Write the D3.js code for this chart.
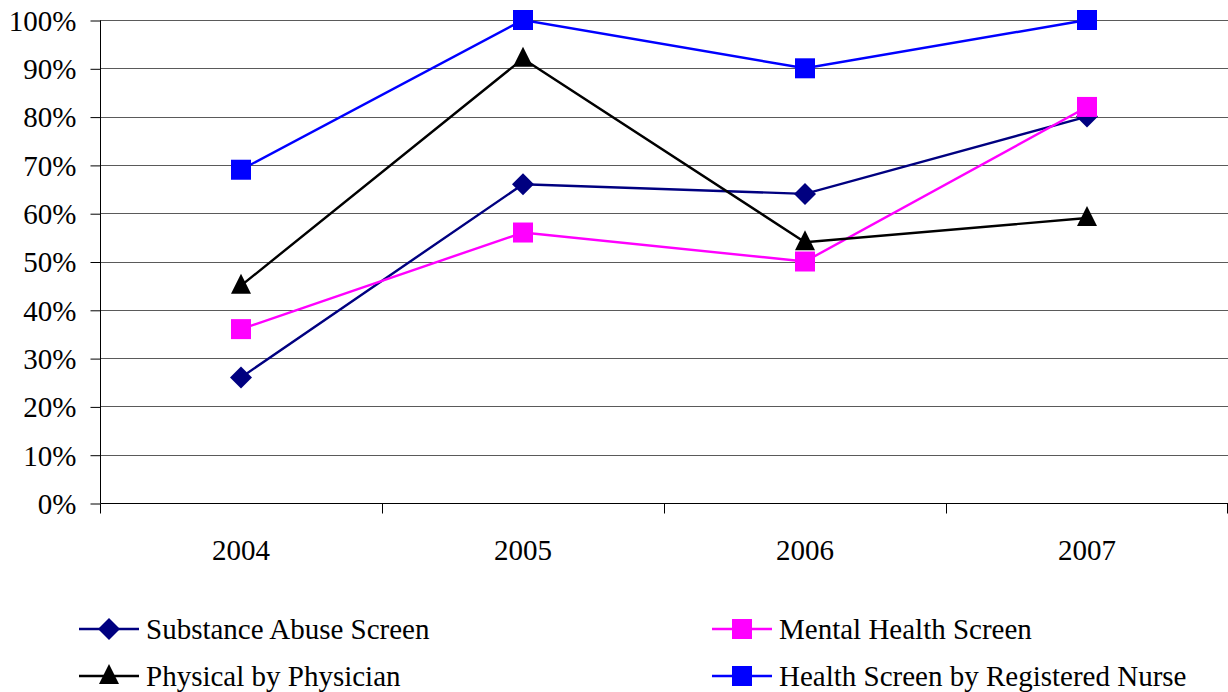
<!DOCTYPE html>
<html>
<head>
<meta charset="utf-8">
<script src="https://cdn.jsdelivr.net/npm/d3@7"></script>
<style>
  html, body { margin: 0; padding: 0; background: #fff; }
  svg { display: block; }
</style>
</head>
<body>
<svg id="chart" width="1228" height="692"><text x="-500" y="-500" font-family="Liberation Serif" font-size="29">Screen 2004 100%</text></svg>
<script>
// Screening rates by year
const years = ["2004", "2005", "2006", "2007"];
const substanceAbuse = [26, 66, 64, 80];
const mentalHealth = [36, 56, 50, 82];
const physical = [45, 92, 54, 59];
const nurseScreen = [69, 100, 90, 100];
const yTicks = [0, 10, 20, 30, 40, 50, 60, 70, 80, 90, 100];
const seriesNames = [
  "Substance Abuse Screen",
  "Mental Health Screen",
  "Physical by Physician",
  "Health Screen by Registered Nurse"
];

const series = [
  { name: seriesNames[0], values: substanceAbuse, color: "#000080", marker: "diamond" },
  { name: seriesNames[1], values: mentalHealth, color: "#FF00FF", marker: "square" },
  { name: seriesNames[2], values: physical, color: "#000000", marker: "triangle" },
  { name: seriesNames[3], values: nurseScreen, color: "#0000FF", marker: "square" }
];

const FONT = "Liberation Serif";
const FS = 29;
const svg = d3.select("#chart");
const plot = { left: 100, right: 1228, top: 20, bottom: 503 };

const x = d3.scaleBand().domain(years).range([plot.left, plot.right]);
const y = d3.scaleLinear().domain([0, 100]).range([plot.bottom, plot.top]);
const cx = d => x(d) + x.bandwidth() / 2;

function drawMarker(g, type, color, px, py, size) {
  if (type === "diamond") {
    const r = size / 2 + 1;
    g.append("path")
      .attr("d", `M${px},${py - r}L${px + r},${py}L${px},${py + r}L${px - r},${py}Z`)
      .attr("fill", color);
  } else if (type === "square") {
    g.append("rect")
      .attr("x", px - size / 2).attr("y", py - size / 2)
      .attr("width", size).attr("height", size)
      .attr("fill", color);
  } else if (type === "triangle") {
    const h = size;
    g.append("path")
      .attr("d", `M${px},${py - h * 0.6}L${px + size / 2},${py + h * 0.4}L${px - size / 2},${py + h * 0.4}Z`)
      .attr("fill", color);
  }
}

function draw() {
  // clear the font placeholder and any earlier drawing
  svg.selectAll("*").remove();

  // Horizontal gridlines
  svg.append("g")
    .selectAll("line")
    .data(yTicks.filter(t => t > 0))
    .join("line")
    .attr("x1", plot.left).attr("x2", plot.right)
    .attr("y1", d => Math.round(y(d)) + 0.5).attr("y2", d => Math.round(y(d)) + 0.5)
    .attr("stroke", "#5a5a5a").attr("stroke-width", 1);

  // Y axis
  const yAxis = svg.append("g")
    .attr("transform", `translate(${plot.left + 0.5},0.5)`)
    .call(d3.axisLeft(y).tickValues(yTicks).tickFormat(d => d + "%").tickSize(10).tickPadding(14));
  yAxis.attr("font-family", FONT).attr("font-size", FS);
  yAxis.select(".domain").attr("stroke", "#000").attr("d", `M0,${plot.top}V${plot.bottom}`);
  yAxis.selectAll(".tick line").attr("stroke", "#000");
  yAxis.selectAll(".tick text")
    .attr("font-family", FONT)
    .attr("font-size", FS)
    .attr("fill", "#000")
    .attr("dy", "0.34em");

  // X axis: ticks on band boundaries, labels centered in each band
  const xAxisG = svg.append("g").attr("transform", `translate(0.5,${plot.bottom + 0.5})`);
  xAxisG.append("line")
    .attr("x1", plot.left).attr("x2", plot.right)
    .attr("stroke", "#000");
  const bounds = years.map(d => x(d)).concat([plot.right - 1]);
  xAxisG.selectAll("line.tick")
    .data(bounds)
    .join("line")
    .attr("class", "tick")
    .attr("x1", d => Math.round(d)).attr("x2", d => Math.round(d))
    .attr("y1", 0).attr("y2", 10)
    .attr("stroke", "#000");
  svg.append("g")
    .selectAll("text")
    .data(years)
    .join("text")
    .attr("x", d => cx(d))
    .attr("y", 560)
    .attr("text-anchor", "middle")
    .attr("font-family", FONT)
    .attr("font-size", FS)
    .attr("fill", "#000")
    .text(d => d);

  // Series lines and markers
  const line = d3.line().x((d, i) => cx(years[i])).y(d => y(d));
  series.forEach(s => {
    const g = svg.append("g");
    g.append("path")
      .datum(s.values)
      .attr("d", line)
      .attr("fill", "none")
      .attr("stroke", s.color)
      .attr("stroke-width", 2.4);
    s.values.forEach((v, i) => drawMarker(g, s.marker, s.color, cx(years[i]), y(v), 20));
  });

  // Legend
  const legendPos = [
    { lx: 79, ly: 629 },
    { lx: 712, ly: 629 },
    { lx: 79, ly: 676 },
    { lx: 712, ly: 676 }
  ];
  series.forEach((s, i) => {
    const p = legendPos[i];
    const g = svg.append("g");
    g.append("line")
      .attr("x1", p.lx).attr("x2", p.lx + 60)
      .attr("y1", p.ly).attr("y2", p.ly)
      .attr("stroke", s.color).attr("stroke-width", 2.4);
    drawMarker(g, s.marker, s.color, p.lx + 30, p.ly, 20);
    g.append("text")
      .attr("x", p.lx + 67)
      .attr("y", p.ly)
      .attr("dy", "0.34em")
      .attr("font-family", FONT)
      .attr("font-size", FS)
      .attr("fill", "#000")
      .text(s.name);
  });
}

draw();
// Redraw once the serif face is ready so text metrics use it
if (document.fonts && document.fonts.load) {
  document.fonts.load(`${FS}px "${FONT}"`, "0123456789%ABS").then(draw).catch(() => {});
}
</script>
</body>
</html>
